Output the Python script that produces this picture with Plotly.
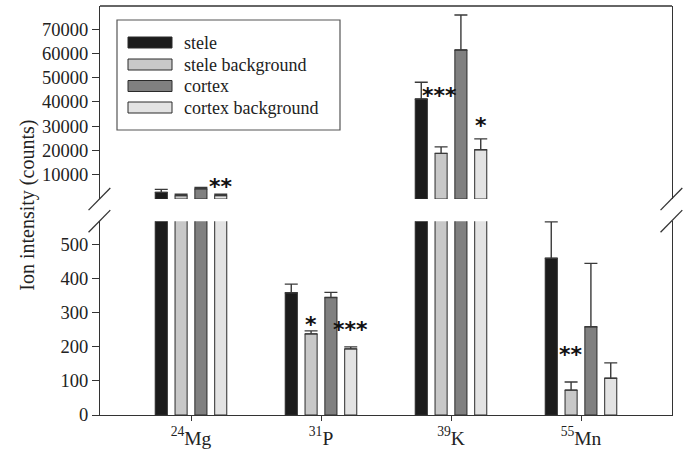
import plotly.graph_objects as go

# ---------------- data ----------------
elements = ["<sup>24</sup>Mg", "<sup>31</sup>P", "<sup>39</sup>K", "<sup>55</sup>Mn"]
series_names = ["stele", "stele background", "cortex", "cortex background"]

stele = [2760, 359, 41200, 460]
stele_err = [1240, 25, 6900, 107]
stele_bg = [1400, 238, 18800, 73]
stele_bg_err = [600, 9, 2700, 24]
cortex = [4240, 345, 61400, 259]
cortex_err = [580, 15, 14400, 186]
cortex_bg = [1400, 194, 20300, 108]
cortex_bg_err = [600, 6, 4500, 45]

lower_ticks = [0, 100, 200, 300, 400, 500]
upper_ticks = [10000, 20000, 30000, 40000, 50000, 60000, 70000]

# which categories are drawn in the upper (broken) panel
upper_shown = [True, False, True, False]

# significance marks: (category index, series slot, label, value, panel)
sig_marks = [
    (0, 3, "**", 7400, "upper"),
    (2, 0.9, "***", 44600, "upper"),
    (2, 3, "*", 32200, "upper"),
    (1, 1, "*", 279, "lower"),
    (1, 3, "***", 266, "lower"),
    (3, 1, "**", 193, "lower"),
]

colors = ["#1c1c1c", "#c8c8c8", "#808080", "#e3e3e3"]
values = [stele, stele_bg, cortex, cortex_bg]
errors = [stele_err, stele_bg_err, cortex_err, cortex_bg_err]

FONT = "Liberation Serif"
fig = go.Figure()

for name, col, vals, errs in zip(series_names, colors, values, errors):
    # lower panel
    fig.add_trace(go.Bar(
        x=elements, y=vals, name=name, xaxis="x", yaxis="y",
        marker=dict(color=col, line=dict(color="#2a2a2a", width=1)),
        error_y=dict(type="data", array=errs, arrayminus=[0] * len(errs), symmetric=False,
                     color="#3a3a3a", thickness=1.4, width=6.5),
        showlegend=False,
    ))
    # upper panel
    fig.add_trace(go.Bar(
        x=elements,
        y=[v if s else None for v, s in zip(vals, upper_shown)],
        name=name, xaxis="x", yaxis="y2",
        marker=dict(color=col, line=dict(color="#2a2a2a", width=1)),
        error_y=dict(type="data", array=[e if s else None for e, s in zip(errs, upper_shown)],
                     arrayminus=[0] * len(errs), symmetric=False,
                     color="#3a3a3a", thickness=1.4, width=6.5),
        showlegend=False,
    ))

LOW_TOP = 0.474
UP_BOT = 0.528

axis_common = dict(showline=True, linecolor="#333", linewidth=1.3, ticks="outside",
                   ticklen=7, tickcolor="#333", tickwidth=1.3, showgrid=False, zeroline=False,
                   tickformat="d",
                   tickfont=dict(family=FONT, size=18.5, color="#222"))

fig.update_layout(
    width=685, height=466,
    margin=dict(l=100, r=13, t=6, b=51),
    paper_bgcolor="white", plot_bgcolor="white",
    barmode="group", bargap=0.39, bargroupgap=0.39,
    hovermode=False,
    xaxis=dict(anchor="y", range=[-0.7, 3.7], showline=True, linecolor="#333", linewidth=1.3,
               ticks="outside", ticklen=5, tickcolor="#333", tickwidth=1.3,
               tickfont=dict(family=FONT, size=19.5, color="#222"), showgrid=False),
    yaxis=dict(domain=[0, LOW_TOP], range=[0, 569], tickvals=lower_ticks,
               mirror=True, **axis_common),
    yaxis2=dict(domain=[UP_BOT, 1], range=[0, 79500], anchor="x",
                tickvals=upper_ticks, mirror=True, **axis_common),
)

# top frame line
fig.add_shape(type="line", xref="paper", yref="paper", x0=0, x1=1, y0=1, y1=1,
              line=dict(color="#333", width=1.3))

# break marks on both sides
for xc in (0, 1):
    for yc in (UP_BOT, LOW_TOP):
        fig.add_shape(type="line", xref="paper", yref="paper",
                      x0=xc - 0.02, x1=xc + 0.018, y0=yc - 0.027, y1=yc + 0.027,
                      line=dict(color="#333", width=1.3))

# significance asterisks
n_series = 4
slot = (1 - 0.39) / n_series
for ci, si, txt, val, panel in sig_marks:
    xpos = ci - (1 - 0.39) / 2 + slot * (si + 0.5)
    fig.add_annotation(x=xpos, y=val, xref="x", yref="y2" if panel == "upper" else "y",
                       text="<b>" + txt + "</b>", showarrow=False, yanchor="middle", yshift=-5,
                       font=dict(family="DejaVu Sans", size=22, color="#111"))

# y axis title
fig.add_annotation(x=0, y=0.513, xref="paper", yref="paper", xshift=-86,
                   text="Ion intensity (counts)", textangle=-90, showarrow=False,
                   font=dict(family=FONT, size=20, color="#222"))

# manual legend (box, swatches, labels)
PW, PH = 572, 409
def px(x):
    return (x - 100) / PW
def py(y):
    return (415 - y) / PH

fig.add_shape(type="rect", xref="paper", yref="paper", x0=px(117), x1=px(340), y0=py(130), y1=py(20),
              line=dict(color="#555", width=1.2), fillcolor="white")
leg_y = [42.5, 64.5, 86, 107.5]
for name, col, yc in zip(series_names, colors, leg_y):
    fig.add_shape(type="rect", xref="paper", yref="paper", x0=px(128), x1=px(172),
                  y0=py(yc + 5.5), y1=py(yc - 5.5), fillcolor=col, line=dict(color="#2a2a2a", width=1))
    fig.add_annotation(x=px(182), y=py(yc), xref="paper", yref="paper", text=name,
                       showarrow=False, xanchor="left", yanchor="middle",
                       font=dict(family=FONT, size=18, color="#222"))

fig.write_html("out.html", config={"displayModeBar": False},
               post_script="document.body.style.margin='0';")
